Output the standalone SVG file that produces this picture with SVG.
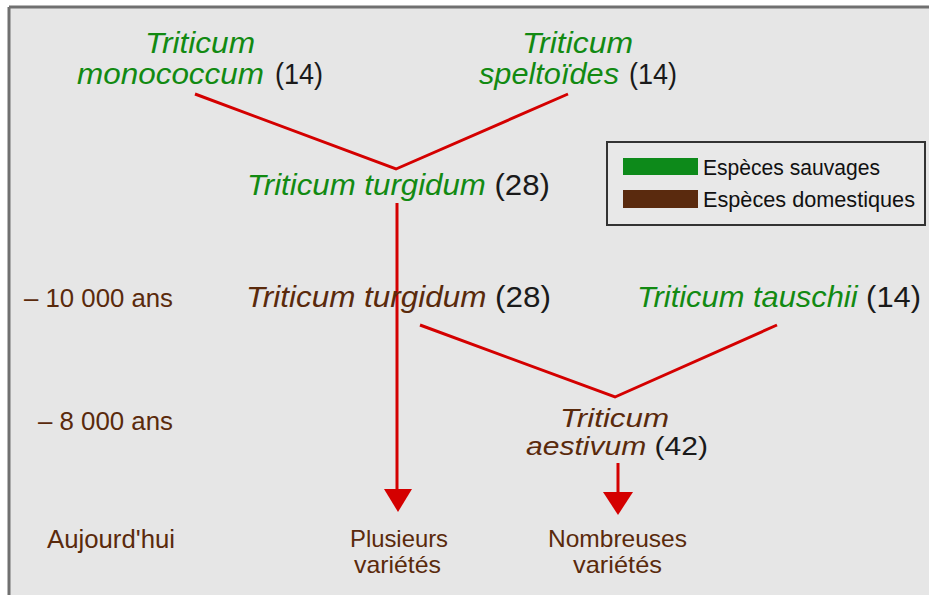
<svg xmlns="http://www.w3.org/2000/svg" width="929" height="595" viewBox="0 0 929 595">
<defs>
<style>
.t{font-family:"Liberation Sans",Arial,sans-serif;font-size:29px}
.u{font-family:"Liberation Sans",Arial,sans-serif;font-size:26px}
.s{font-family:"Liberation Sans",Arial,sans-serif;font-size:24px}
.it{font-style:italic}
.g{fill:#128a12}
.b{fill:#5a2a0c}
.n{fill:#1a1a1a;font-style:normal}
.lg{font-family:"Liberation Sans",Arial,sans-serif;font-size:22px;fill:#111}
.ln{fill:none;stroke:#d40000;stroke-width:3;stroke-linejoin:miter}
.ar{fill:#d40000}
</style>
</defs>
<rect x="0" y="0" width="929" height="595" fill="#ffffff"/>
<rect x="9" y="7" width="920" height="588" fill="#e6e6e6"/>
<line x1="9" y1="7" x2="929" y2="7" stroke="#707070" stroke-width="3"/>
<line x1="9" y1="7" x2="9" y2="595" stroke="#707070" stroke-width="3"/>

<g id="connectors">
<polyline class="ln" points="195,94 396,169 568,94"/>
<line class="ln" x1="397" y1="203" x2="397" y2="490" stroke-width="2.5"/>
<polygon class="ar" points="384,489 412,489 398,512"/>
<polyline class="ln" points="420,325 615,397 777,325"/>
<line class="ln" x1="618" y1="463" x2="618" y2="494" stroke-width="2.5"/>
<polygon class="ar" points="603,492 633,492 618,515"/>
</g>

<g id="monococcum">
<text class="t it g" x="145" y="53" textLength="110" lengthAdjust="spacingAndGlyphs">Triticum</text>
<text class="t it g" x="77" y="84" textLength="187" lengthAdjust="spacingAndGlyphs">monococcum</text>
<text class="t n" x="275" y="84" textLength="48" lengthAdjust="spacingAndGlyphs">(14)</text>
</g>

<g id="speltoides">
<text class="t it g" x="522" y="53" textLength="111" lengthAdjust="spacingAndGlyphs">Triticum</text>
<text class="t it g" x="479" y="84" textLength="140" lengthAdjust="spacingAndGlyphs">speltoïdes</text>
<text class="t n" x="629" y="84" textLength="48" lengthAdjust="spacingAndGlyphs">(14)</text>
</g>

<g id="turgidum-sauvage">
<text class="t it g" x="247" y="195" textLength="303" lengthAdjust="spacingAndGlyphs">Triticum turgidum <tspan class="n">(28)</tspan></text>
</g>

<g id="turgidum-domestique">
<text class="t it b" x="246" y="307" textLength="305" lengthAdjust="spacingAndGlyphs">Triticum turgidum <tspan class="n">(28)</tspan></text>
</g>

<g id="tauschii">
<text class="t it g" x="637" y="307" textLength="284" lengthAdjust="spacingAndGlyphs">Triticum tauschii <tspan class="n">(14)</tspan></text>
</g>

<g id="aestivum">
<text class="u it b" x="560" y="427" textLength="109" lengthAdjust="spacingAndGlyphs">Triticum</text>
<text class="u it b" x="526" y="455" textLength="182" lengthAdjust="spacingAndGlyphs">aestivum <tspan class="n">(42)</tspan></text>
</g>

<g id="plusieurs">
<text class="s b" x="350" y="547" textLength="98" lengthAdjust="spacingAndGlyphs">Plusieurs</text>
<text class="s b" x="354" y="573" textLength="87" lengthAdjust="spacingAndGlyphs">variétés</text>
</g>

<g id="nombreuses">
<text class="s b" x="548" y="547" textLength="139" lengthAdjust="spacingAndGlyphs">Nombreuses</text>
<text class="s b" x="573" y="573" textLength="89" lengthAdjust="spacingAndGlyphs">variétés</text>
</g>

<g id="timeline">
<text class="u b" x="24" y="307" textLength="149" lengthAdjust="spacingAndGlyphs">– 10 000 ans</text>
<text class="u b" x="38" y="430" textLength="135" lengthAdjust="spacingAndGlyphs">– 8 000 ans</text>
<text class="u b" x="47" y="548" textLength="128" lengthAdjust="spacingAndGlyphs">Aujourd'hui</text>
</g>

<g id="legend">
<rect x="607" y="142" width="318" height="83" fill="#e8e8e8" stroke="#333333" stroke-width="2"/>
<rect x="623" y="158" width="75" height="17" fill="#0d8a1a"/>
<rect x="623" y="190" width="75" height="18" fill="#5a2a0e"/>
<text class="lg" x="703" y="175" textLength="177" lengthAdjust="spacingAndGlyphs">Espèces sauvages</text>
<text class="lg" x="703" y="207" textLength="212" lengthAdjust="spacingAndGlyphs">Espèces domestiques</text>
</g>
</svg>
